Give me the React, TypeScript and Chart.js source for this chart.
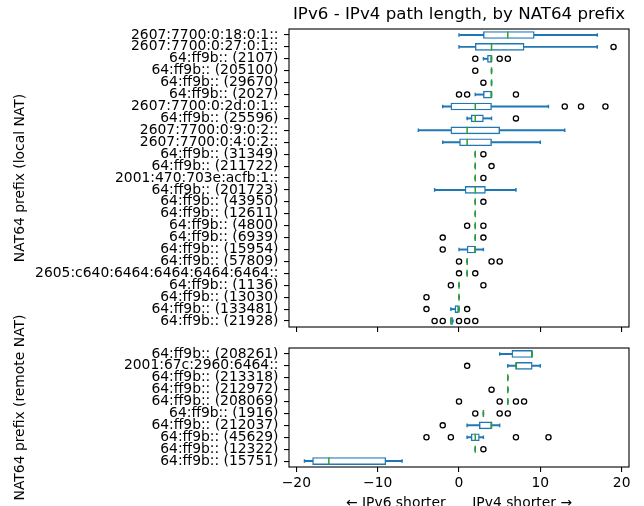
import React, { useEffect, useRef } from 'react';
import { Chart, registerables } from 'chart.js';

Chart.register(...registerables);

// ---------- data ----------
const X_MIN = -20.9;
const X_MAX = 20.9;
const xTickValues = [-20, -10, 0, 10, 20];

const titleText = 'IPv6 - IPv4 path length, by NAT64 prefix';
const xAxisTitle = '\u2190 IPv6 shorter      IPv4 shorter \u2192';
const localAxisTitle = 'NAT64 prefix (local NAT)';
const remoteAxisTitle = 'NAT64 prefix (remote NAT)';

const localLabels = [
  '2607:7700:0:18:0:1::',
  '2607:7700:0:27:0:1::',
  '64:ff9b:: (2107)',
  '64:ff9b:: (205100)',
  '64:ff9b:: (29670)',
  '64:ff9b:: (2027)',
  '2607:7700:0:2d:0:1::',
  '64:ff9b:: (25596)',
  '2607:7700:0:9:0:2::',
  '2607:7700:0:4:0:2::',
  '64:ff9b:: (31349)',
  '64:ff9b:: (211722)',
  '2001:470:703e:acfb:1::',
  '64:ff9b:: (201723)',
  '64:ff9b:: (43950)',
  '64:ff9b:: (12611)',
  '64:ff9b:: (4800)',
  '64:ff9b:: (6939)',
  '64:ff9b:: (15954)',
  '64:ff9b:: (57809)',
  '2605:c640:6464:6464:6464:6464::',
  '64:ff9b:: (1136)',
  '64:ff9b:: (13030)',
  '64:ff9b:: (133481)',
  '64:ff9b:: (21928)',
];
const localWhiskerLow = [0, 0, 3, 4, 4, 2, -2, 1, -5, -2, 2, 2, 2, -3, 2, 2, 2, 2, 0, 1, 1, 0, 0, -1, -1];
const localQ1 = [3, 2, 3.5, 4, 4, 3, -1, 1.5, -1, 0, 2, 2, 2, 0.75, 2, 2, 2, 2, 1, 1, 1, 0, 0, -0.5, -1];
const localMedian = [6, 4, 4, 4, 4, 4, 2, 2, 1, 1, 2, 2, 2, 2, 2, 2, 2, 2, 2, 1, 1, 0, 0, 0, -1];
const localQ3 = [9.25, 8, 4, 4, 4, 4, 4, 3, 5, 4, 2, 2, 2, 3.25, 2, 2, 2, 2, 2, 1, 1, 0, 0, 0, -0.75];
const localWhiskerHigh = [17, 17, 4, 4, 4, 4, 11, 4, 13, 10, 2, 2, 2, 7, 2, 2, 2, 2, 3, 1, 1, 0, 0, 0, -0.75];
const localOutliers = [
  [],
  [19],
  [2, 5, 6],
  [2],
  [3],
  [0, 1, 7],
  [13, 15, 18],
  [7],
  [],
  [],
  [3],
  [4],
  [3],
  [],
  [3],
  [],
  [1, 3],
  [-2, 3],
  [-2],
  [0, 4, 5],
  [0, 2],
  [-1, 3],
  [-4],
  [-4, 1],
  [-3, -2, 0, 1, 2],
];

const remoteLabels = [
  '64:ff9b:: (208261)',
  '2001:67c:2960:6464::',
  '64:ff9b:: (213318)',
  '64:ff9b:: (212972)',
  '64:ff9b:: (208069)',
  '64:ff9b:: (1916)',
  '64:ff9b:: (212037)',
  '64:ff9b:: (45629)',
  '64:ff9b:: (12322)',
  '64:ff9b:: (15751)',
];
const remoteWhiskerLow = [5, 6, 6, 6, 6, 3, 1, 1, 2, -19];
const remoteQ1 = [6.5, 7, 6, 6, 6, 3, 2.5, 1.5, 2, -18];
const remoteMedian = [9, 7, 6, 6, 6, 3, 4, 2, 2, -16];
const remoteQ3 = [9, 9, 6, 6, 6, 3, 4, 2.5, 2, -9];
const remoteWhiskerHigh = [9, 10, 6, 6, 6, 3, 5, 3, 2, -7];
const remoteOutliers = [
  [],
  [1],
  [],
  [4],
  [0, 5, 7, 8],
  [2, 5, 6],
  [-2],
  [-4, -1, 7, 11],
  [3],
  [],
];

// ---------- styling ----------
const BLUE = '#1f77b4';
const GREEN = '#2ca02c';
const FONT = "'DejaVu Sans', 'Liberation Sans', sans-serif";
const TICK_SIZE = 13.89;
const TITLE_SIZE = 16.67;
const AXIS_LEFT = 289;
const AXIS_RIGHT_PAD = 15;

function buildDatasets(
  labels: string[],
  wlo: number[],
  q1: number[],
  med: number[],
  q3: number[],
  whi: number[],
  outliers: number[][]
): any[] {
  return [
    {
      type: 'bar',
      label: 'whiskers',
      indexAxis: 'y',
      data: labels.map((_, i) => [wlo[i], whi[i]]),
      backgroundColor: BLUE,
      borderWidth: 0,
      barThickness: 1.3,
      grouped: false,
      order: 5,
    },
    {
      type: 'bar',
      label: 'boxes',
      indexAxis: 'y',
      data: labels.map((_, i) => [q1[i], q3[i]]),
      backgroundColor: '#ffffff',
      borderColor: BLUE,
      borderWidth: 1.4,
      borderSkipped: false,
      barThickness: 7,
      grouped: false,
      order: 4,
    },
    {
      type: 'scatter',
      label: 'caps',
      indexAxis: 'x',
      data: labels.flatMap((l, i) => [
        { x: wlo[i], y: l },
        { x: whi[i], y: l },
      ]),
      pointStyle: 'line',
      rotation: 90,
      radius: 1.8,
      borderColor: BLUE,
      borderWidth: 1.4,
      order: 3,
    },
    {
      type: 'scatter',
      label: 'medians',
      indexAxis: 'x',
      data: labels.map((l, i) => ({ x: med[i], y: l })),
      pointStyle: 'line',
      rotation: 90,
      radius: 3.5,
      borderColor: GREEN,
      borderWidth: 1.5,
      order: 2,
    },
    {
      type: 'scatter',
      label: 'outliers',
      indexAxis: 'x',
      data: labels.flatMap((l, i) => outliers[i].map((v) => ({ x: v, y: l }))),
      pointStyle: 'circle',
      radius: 2.6,
      borderColor: '#000000',
      backgroundColor: 'rgba(0,0,0,0)',
      borderWidth: 1.3,
      order: 1,
    },
  ];
}

const framePlugin = {
  id: 'frame',
  afterDraw(chart: any) {
    const { ctx, chartArea } = chart;
    const { left, top, right, bottom } = chartArea;
    ctx.save();
    ctx.strokeStyle = '#000';
    ctx.lineWidth = 1.1;
    ctx.strokeRect(left, top, right - left, bottom - top);
    ctx.restore();
  },
};

function yScale(labels: string[], title: string) {
  return {
    type: 'category',
    labels,
    offset: true,
    grid: {
      display: true,
      drawOnChartArea: false,
      drawTicks: true,
      tickLength: 5,
      offset: false,
      color: '#000',
      lineWidth: 1.1,
    },
    border: { display: false },
    ticks: {
      autoSkip: false,
      color: '#000',
      padding: 5.5,
      font: { family: FONT, size: TICK_SIZE },
    },
    title: {
      display: true,
      text: title,
      color: '#000',
      font: { family: FONT, size: TICK_SIZE },
      padding: { top: 12, bottom: 0 },
    },
    afterFit: (s: any) => {
      s.width = AXIS_LEFT;
    },
  };
}

function xScale(showLabels: boolean, height: number) {
  return {
    type: 'linear',
    min: X_MIN,
    max: X_MAX,
    afterBuildTicks: (s: any) => {
      s.ticks = xTickValues.map((v) => ({ value: v }));
    },
    grid: {
      display: true,
      drawOnChartArea: false,
      drawTicks: true,
      tickLength: 5,
      color: '#000',
      lineWidth: 1.1,
    },
    border: { display: false },
    ticks: {
      display: showLabels,
      color: '#000',
      padding: 3,
      maxRotation: 0,
      font: { family: FONT, size: TICK_SIZE },
      callback: (v: any) => (Number(v) < 0 ? '\u2212' + Math.abs(Number(v)) : String(v)),
    },
    title: {
      display: showLabels,
      text: xAxisTitle,
      color: '#000',
      font: { family: FONT, size: TICK_SIZE },
      padding: { top: 0, bottom: 8.7 },
    },
    afterFit: (s: any) => {
      s.height = height;
    },
  };
}

export default function App() {
  const topRef = useRef<HTMLCanvasElement | null>(null);
  const bottomRef = useRef<HTMLCanvasElement | null>(null);

  useEffect(() => {
    Chart.defaults.font.family = FONT;
    Chart.defaults.color = '#000';

    const top = new Chart(topRef.current as HTMLCanvasElement, {
      type: 'bar',
      data: {
        labels: localLabels,
        datasets: buildDatasets(
          localLabels,
          localWhiskerLow,
          localQ1,
          localMedian,
          localQ3,
          localWhiskerHigh,
          localOutliers
        ),
      },
      options: {
        animation: false,
        responsive: false,
        indexAxis: 'y',
        events: [],
        layout: { padding: { left: 0, right: AXIS_RIGHT_PAD, top: 0, bottom: 506 - 327 - 10 } },
        plugins: {
          legend: { display: false },
          tooltip: { enabled: false },
          title: {
            display: true,
            text: titleText,
            color: '#000',
            fullSize: false,
            font: { family: FONT, size: TITLE_SIZE, weight: 'normal' },
            padding: { top: 5, bottom: 4 },
          },
        },
        scales: {
          x: xScale(false, 10),
          y: yScale(localLabels, localAxisTitle),
        },
      } as any,
      plugins: [framePlugin],
    });

    const bottom = new Chart(bottomRef.current as HTMLCanvasElement, {
      type: 'bar',
      data: {
        labels: remoteLabels,
        datasets: buildDatasets(
          remoteLabels,
          remoteWhiskerLow,
          remoteQ1,
          remoteMedian,
          remoteQ3,
          remoteWhiskerHigh,
          remoteOutliers
        ),
      },
      options: {
        animation: false,
        responsive: false,
        indexAxis: 'y',
        events: [],
        layout: { padding: { left: 0, right: AXIS_RIGHT_PAD, top: 348, bottom: 0 } },
        plugins: {
          legend: { display: false },
          tooltip: { enabled: false },
          title: { display: false },
        },
        scales: {
          x: xScale(true, 520 - 467),
          y: yScale(remoteLabels, remoteAxisTitle),
        },
      } as any,
      plugins: [framePlugin],
    });

    return () => {
      top.destroy();
      bottom.destroy();
    };
  }, []);

  return (
    <div
      style={{
        position: 'absolute',
        left: 0,
        top: 0,
        width: 644,
        height: 506,
        overflow: 'hidden',
        background: '#fff',
      }}
    >
      <canvas
        ref={topRef}
        width={644}
        height={506}
        style={{ position: 'absolute', left: 0, top: 0, width: 644, height: 506 }}
      />
      <canvas
        ref={bottomRef}
        width={644}
        height={520}
        style={{ position: 'absolute', left: 0, top: 0, width: 644, height: 520 }}
      />
    </div>
  );
}
